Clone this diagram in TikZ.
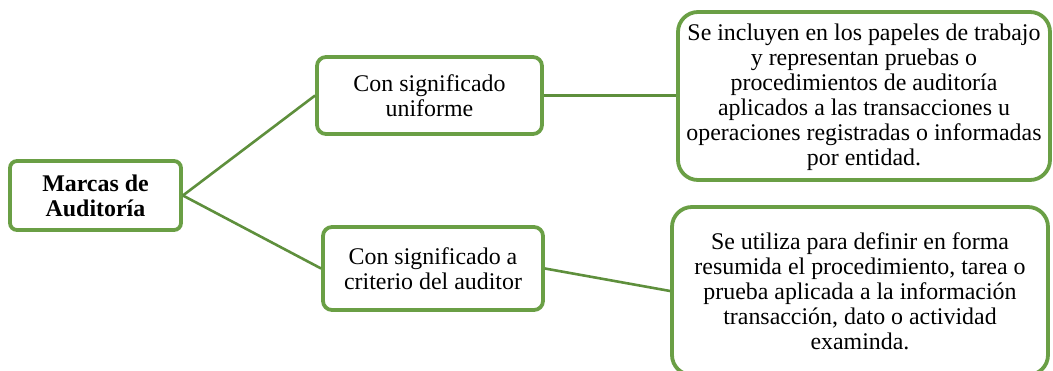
\documentclass[tikz,border=0pt]{standalone}
\usepackage{fontspec}
\setmainfont{Liberation Serif}
\definecolor{boxgreen}{HTML}{6A9F45}
\definecolor{linegreen}{HTML}{5E8F3C}
\tikzset{
  card/.style={draw=boxgreen,line width=3.8pt,fill=white,rounded corners=#1,align=center,inner sep=0pt,text=black,
    font=\fontsize{23.9}{25}\selectfont},
  card/.default=9pt,
  link/.style={draw=linegreen,line width=2.6pt}
}
\begin{document}
\begin{tikzpicture}[x=1pt,y=-1pt]
\useasboundingbox (0,0) rectangle (1053,371);
\node[card=7pt,minimum width=171pt,minimum height=69pt] (root) at (95.5,195.5) {\textbf{Marcas de}\\\textbf{Auditoría}};
\node[card,minimum width=225pt,minimum height=77pt] (uni) at (429.5,95.5) {Con significado\\uniforme};
\node[card,minimum width=220pt,minimum height=83pt] (crit) at (433,268.5) {Con significado a\\criterio del auditor};
\node[card=20pt,minimum width=372pt,minimum height=168pt] (top) at (864,96) {\rule{0pt}{18.5pt}Se incluyen en los papeles de trabajo\\y representan pruebas o\\procedimientos de auditoría\\aplicados a las transacciones u\\operaciones registradas o informadas\\por entidad.};
\node[card=20pt,minimum width=376pt,minimum height=168pt] (bot) at (860,291) {Se utiliza para definir en forma\\resumida el procedimiento, tarea o\\prueba aplicada a la información\\transacción, dato o actividad\\examinda.};
\draw[link] (root.east) -- (uni.west);
\draw[link] (root.east) -- (crit.west);
\draw[link] (uni.east) -- (uni.east -| top.west);
\draw[link] (crit.east) -- (bot.west);
\end{tikzpicture}
\end{document}
